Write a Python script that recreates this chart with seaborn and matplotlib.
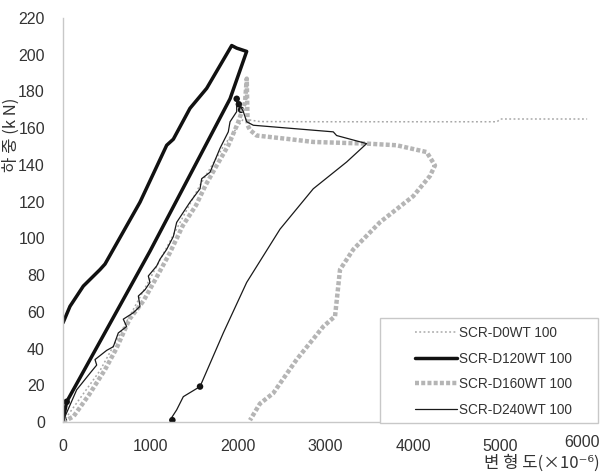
import seaborn as sns
import matplotlib.pyplot as plt
from matplotlib.patches import Rectangle
from matplotlib.transforms import ScaledTranslation

# strain (x10^-6) vs load (kN)
d0_x = [0, 423, 994, 1566, 1832, 2061, 2250, 3000, 3900, 4960, 5000, 5990]
d0_y = [0, 28, 78, 129, 150, 165, 163.6, 163.5, 163.5, 163.5, 165, 165]

d120_x = [0, 80, 232, 423, 480, 575, 880, 1185, 1261, 1451, 1642, 1928, 1985,
          2099, 1909, 994, 42, 0]
d120_y = [54, 63, 74, 83, 86, 94, 119.7, 150.7, 154, 170.8, 181.7, 205, 203.6,
          201.8, 176, 93, 11, 1]

d160_x = [0, 120, 300, 480, 610, 760, 920, 1060, 1220, 1370, 1520, 1630, 1760,
          1890, 2000, 2080, 2100, 2110, 2137, 2213, 2594, 2860, 3470, 3813, 4156,
          4251, 4194, 4003, 3623, 3318, 3166, 3109, 2975, 2670, 2403, 2251, 2137]
d160_y = [0, 3, 15, 28.5, 40, 56, 66, 78, 92, 107, 118, 129, 140, 150.7,
          163, 174, 187, 161.6, 159, 156, 154, 152.5, 151.6, 150.7, 147,
          139.7, 134, 123, 108.8, 94, 83, 57.6, 52, 34, 15.7, 10, 1]

d240_x = [0, 23, 156, 309, 385, 366, 499, 575, 632, 727, 689, 804, 880, 861,
          937, 994, 975, 1071, 1109, 1185, 1261, 1299, 1451, 1566, 1585, 1680,
          1794, 1889, 1909, 1985, 1985, 2061, 2099, 2175, 3089, 3127, 3470,
          3242, 2860, 2480, 2099, 1832, 1566, 1375, 1299, 1223]
d240_y = [0, 3, 17.5, 26.6, 31, 34, 39, 41, 48.5, 52, 56, 59.5, 63, 68.6,
          72, 76, 79.5, 85, 88.7, 94, 101, 108.7, 119.7, 127, 132.5, 136,
          149, 158, 163.5, 169, 176, 169, 163.5, 161.6, 158, 156, 151.6,
          141.6, 127, 105, 76, 48.5, 19.3, 13.8, 6.6, 1]

# dense data clumps that show as blobs
blob_x = [1985, 2010, 2035, 1566, 1250, 42, 10]
blob_y = [176, 173, 170, 19.3, 1, 11, 1]

labels = ["SCR-D0WT 100", "SCR-D120WT 100", "SCR-D160WT 100", "SCR-D240WT 100"]

sns.set_style("white")
plt.rcParams['font.family'] = ['Liberation Sans', 'DejaVu Sans']

fig = plt.figure(figsize=(6.03, 4.74), dpi=100)
ax = fig.add_axes([63/603, 1 - 422/474, (588 - 63)/603, (422 - 18)/474])

common = dict(sort=False, estimator=None, ax=ax)
sns.lineplot(x=d0_x, y=d0_y, color="#a8a8a8", lw=1.1,
             linestyle=(0, (1.2, 1.6)), label=labels[0], **common)
sns.lineplot(x=d160_x, y=d160_y, color="#b5b5b5", lw=3.2,
             linestyle=(0, (0.9, 0.5)), label=labels[2], **common)
sns.lineplot(x=d120_x, y=d120_y, color="#111111", lw=2.5,
             label=labels[1], **common)
sns.lineplot(x=d240_x, y=d240_y, color="#1a1a1a", lw=0.9,
             label=labels[3], **common)
sns.scatterplot(x=blob_x, y=blob_y, color="#111111", s=22, edgecolor="none",
                legend=False, ax=ax)

ax.set_xlim(0, 6000)
ax.set_ylim(0, 220)
ax.set_xticks(range(0, 6001, 1000))
ax.set_yticks(range(0, 221, 20))
ax.set_xlabel("")
ax.set_ylabel("")
sns.despine(ax=ax)
for s in ["left", "bottom"]:
    ax.spines[s].set_color("#c8c8c8")
    ax.spines[s].set_linewidth(1)
ax.tick_params(axis="both", direction="inout", length=4, color="#c8c8c8",
               labelsize=11.5, labelcolor="#333333")
ax.tick_params(axis="x", pad=10)
ax.tick_params(axis="y", pad=11)
# the last x label sits a bit higher and left in the original
last = ax.get_xticklabels()[-1]
last.set_transform(last.get_transform() +
                   ScaledTranslation(-6/100, 4/100, fig.dpi_scale_trans))

# legend box drawn separately so it can be wider than its content
box = Rectangle((380/603, 1 - 423/474), 218/603, 105/474,
                transform=fig.transFigure, facecolor="white",
                edgecolor="#c8c8c8", lw=1, zorder=4.5, clip_on=False)
ax.add_patch(box)

h, l = ax.get_legend_handles_labels()
order = [l.index(t) for t in labels]
leg = ax.legend([h[i] for i in order], [l[i] for i in order],
                loc="upper left", bbox_to_anchor=(415/603, 1 - 326/474),
                bbox_transform=fig.transFigure, borderaxespad=0, borderpad=0,
                fontsize=9.8, handlelength=3.1, handletextpad=0.15,
                labelspacing=0.85, frameon=False)
leg.set_zorder(5)
for t in leg.get_texts():
    t.set_color("#333333")

kr = ['Noto Sans CJK KR', 'DejaVu Sans']
fig.text(0.018, 1 - 135/474, "하 중 (k N)", rotation=90, ha="center", va="center",
         fontsize=12, color="#333333", family=kr)
fig.text(600/603, 1 - 463/474, "변 형 도(×10⁻⁶)", ha="right", va="center",
         fontsize=12, color="#333333", family=kr)

fig.savefig("out.png", dpi=100)
